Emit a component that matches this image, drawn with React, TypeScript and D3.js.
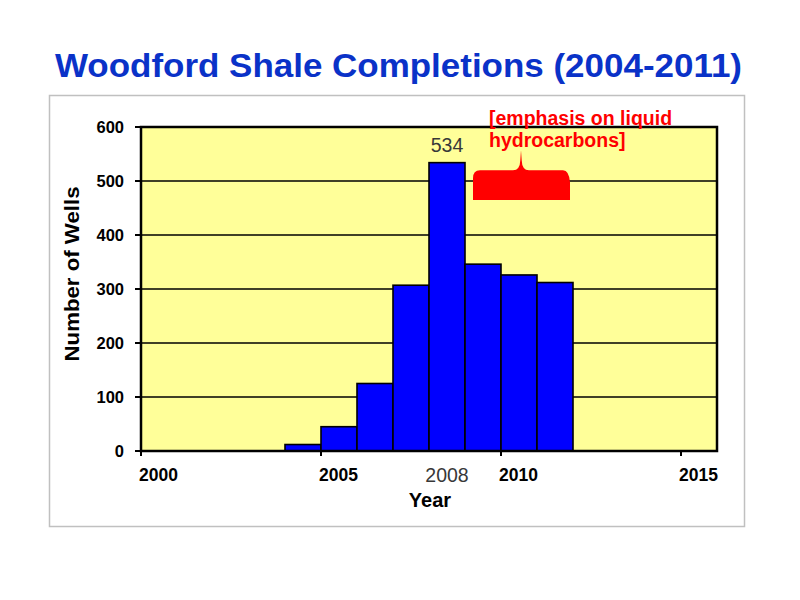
import React from "react";
import * as d3 from "d3";

const years = [2004, 2005, 2006, 2007, 2008, 2009, 2010, 2011];
const wells = [12, 45, 125, 307, 534, 346, 326, 312];
const yTicks = [0, 100, 200, 300, 400, 500, 600];
const xTicks = [2000, 2005, 2010, 2015];
const titleText = "Woodford Shale Completions (2004-2011)";
const yLabel = "Number of Wells";
const xLabel = "Year";
const peakLabel = "534";
const highlightYear = "2008";
const noteLines = ["[emphasis on liquid", "hydrocarbons]"];

const FONT = "'Liberation Sans', Arial, Helvetica, sans-serif";

export default function App() {
  const x = d3.scaleLinear().domain([2000, 2016]).range([141, 717]);
  const y = d3.scaleLinear().domain([0, 600]).range([451, 127]);
  const data = years.map((yr, i) => ({ yr, v: wells[i] }));
  const peak = data.reduce((a, b) => (b.v > a.v ? b : a));

  // brace annotation spanning 2009-2012
  const bx0 = x(2009) + 8;
  const bx1 = x(2012) - 4;
  const bTop = y(520);
  const bBot = y(465);
  const bMid = (bx0 + bx1) / 2;
  const tipY = y(557);
  const brace = `M${bx0},${bBot} L${bx0},${bTop + 8} Q${bx0},${bTop} ${bx0 + 7},${bTop}
    L${bMid - 8},${bTop} Q${bMid - 1},${bTop} ${bMid - 0.7},${bTop - 10} L${bMid},${tipY}
    L${bMid + 0.7},${bTop - 10} Q${bMid + 1},${bTop} ${bMid + 8},${bTop}
    L${bx1 - 6},${bTop} Q${bx1},${bTop} ${bx1 + 1},${bTop + 12} L${bx1 + 1},${bBot} Z`;

  return (
    <div style={{ position: "absolute", left: 0, top: 0 }}>
      <svg width={800} height={600} style={{ display: "block", background: "#fff" }} fontFamily={FONT}>
        <text x={55} y={77} fontSize={33} fontWeight="bold" fill="#0a32c8" textLength={687} lengthAdjust="spacingAndGlyphs">
          {titleText}
        </text>
        <rect x={49.5} y={95.5} width={695} height={431} fill="#fff" stroke="#c0c0c0" strokeWidth={1.5} />
        <rect x={x(2000)} y={y(600)} width={x(2016) - x(2000)} height={y(0) - y(600)} fill="#ffff99" />
        {yTicks.filter((t) => t > 0 && t < 600).map((t) => (
          <line key={t} x1={x(2000)} x2={x(2016)} y1={y(t)} y2={y(t)} stroke="#000" strokeWidth={1.6} />
        ))}
        {data.map((d) => (
          <rect key={d.yr} x={x(d.yr)} y={y(d.v)} width={x(d.yr + 1) - x(d.yr)} height={y(0) - y(d.v)}
            fill="#0000ff" stroke="#000" strokeWidth={1.6} />
        ))}
        <rect x={x(2000)} y={y(600)} width={x(2016) - x(2000)} height={y(0) - y(600)} fill="none" stroke="#000" strokeWidth={2.5} />
        {yTicks.map((t) => (
          <g key={t}>
            <line x1={x(2000) - 6} x2={x(2000)} y1={y(t)} y2={y(t)} stroke="#000" strokeWidth={2} />
            <text x={124} y={y(t) + 6} textAnchor="end" fontSize={16.5} fontWeight="bold" fill="#000">{t}</text>
          </g>
        ))}
        {xTicks.map((t) => (
          <g key={t}>
            <line x1={x(t)} x2={x(t)} y1={y(0)} y2={y(0) + 5} stroke="#000" strokeWidth={2} />
            <text x={x(t) - 2} y={480.5} textAnchor="start" fontSize={17.5} fontWeight="bold" fill="#000">{t}</text>
          </g>
        ))}
        <text x={x(peak.yr + 0.5)} y={482} textAnchor="middle" fontSize={19.5} fill="#383838">{highlightYear}</text>
        <text x={x(peak.yr + 0.5)} y={y(peak.v) - 11} textAnchor="middle" fontSize={19.5} fill="#383838">{peakLabel}</text>
        <text x={430} y={507} textAnchor="middle" fontSize={20} fontWeight="bold" fill="#000">{xLabel}</text>
        <text transform="translate(79,274) rotate(-90)" textAnchor="middle" fontSize={20} fontWeight="bold" fill="#000" textLength={175} lengthAdjust="spacingAndGlyphs">{yLabel}</text>
        <path d={brace} fill="#ff0000" />
        {noteLines.map((l, i) => (
          <text key={i} x={489} y={125 + i * 22} fontSize={19.5} fontWeight="bold" fill="#ff0000">{l}</text>
        ))}
      </svg>
    </div>
  );
}
